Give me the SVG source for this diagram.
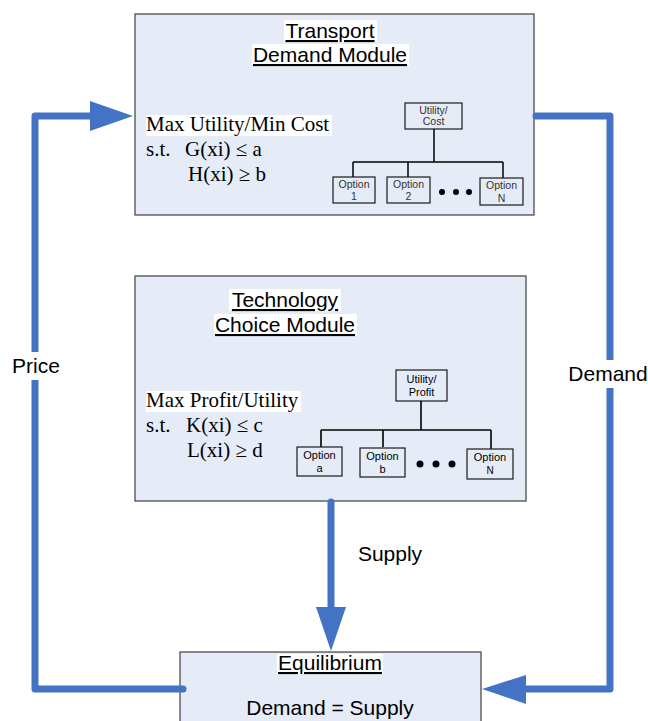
<svg xmlns="http://www.w3.org/2000/svg" width="648" height="721" viewBox="0 0 648 721">
<style>
.mod{fill:#E6ECF7;stroke:#3F3F3F;stroke-width:1.2}
.sb{fill:#E6ECF7;stroke:#1a1a1a;stroke-width:1.2}
.ttl{font-family:"Liberation Sans",Arial,sans-serif;font-size:21px;text-anchor:middle;text-decoration:underline;fill:#000}
.lab{font-family:"Liberation Sans",Arial,sans-serif;font-size:21px;text-anchor:middle;fill:#000}
.ser{font-family:"Liberation Serif","Times New Roman",serif;font-size:21px;fill:#000}
.sm{font-family:"Liberation Sans",Arial,sans-serif;font-size:10.5px;text-anchor:middle;fill:#333}
.smb{font-family:"Liberation Sans",Arial,sans-serif;font-size:11px;text-anchor:middle;fill:#000}
.hl{fill:#fff}
.con{fill:none;stroke:#4472C4;stroke-width:7;stroke-linecap:round;stroke-linejoin:round}
.ah{fill:#4472C4}
</style>
<rect width="648" height="721" fill="#fff"/>

<g id="transport">
<rect class="mod" x="135" y="14" width="399" height="201"/>
<rect class="hl" x="284" y="20" width="93" height="22"/>
<rect class="hl" x="252" y="44" width="157" height="22"/>
<text class="ttl" x="330" y="38">Transport</text>
<text class="ttl" x="330" y="62">Demand Module</text>
<rect class="hl" x="146" y="115" width="186" height="21"/>
<text class="ser" x="146" y="131">Max Utility/Min Cost</text>
<text class="ser" x="146" y="156">s.t.</text>
<text class="ser" x="185" y="156">G(xi) ≤ a</text>
<text class="ser" x="188" y="181">H(xi) ≥ b</text>
<rect class="sb" x="405" y="103" width="57" height="26"/>
<text class="sm" x="433.5" y="114">Utility/</text>
<text class="sm" x="433.5" y="125">Cost</text>
<path d="M434,129 V162 M353,162 H503 M353,162 V177 M408,162 V177 M503,162 V178" fill="none" stroke="#000" stroke-width="1.5"/>
<rect class="sb" x="333" y="177" width="42" height="26"/>
<text class="sm" x="354" y="188">Option</text>
<text class="sm" x="354" y="200">1</text>
<rect class="sb" x="387" y="177" width="43" height="26"/>
<text class="sm" x="408.5" y="188">Option</text>
<text class="sm" x="408.5" y="200">2</text>
<circle cx="442" cy="192" r="3"/>
<circle cx="456" cy="192" r="3"/>
<circle cx="469" cy="192" r="3"/>
<rect class="sb" x="480" y="178" width="43" height="27"/>
<text class="sm" x="501.5" y="189">Option</text>
<text class="sm" x="501.5" y="202">N</text>
</g>

<g id="technology">
<rect class="mod" x="135" y="276" width="391" height="225"/>
<rect class="hl" x="229" y="289" width="112" height="22"/>
<rect class="hl" x="214" y="314" width="143" height="22"/>
<text class="ttl" x="285" y="307">Technology</text>
<text class="ttl" x="285" y="332">Choice Module</text>
<rect class="hl" x="146" y="391" width="155" height="21"/>
<text class="ser" x="146" y="407">Max Profit/Utility</text>
<text class="ser" x="146" y="432">s.t.</text>
<text class="ser" x="186" y="432">K(xi) ≤ c</text>
<text class="ser" x="187" y="457">L(xi) ≥ d</text>
<rect class="sb" x="396" y="370" width="51" height="31"/>
<text class="smb" x="421.5" y="383">Utility/</text>
<text class="smb" x="421.5" y="396">Profit</text>
<path d="M421,401 V430 M321,430 H491 M321,430 V447 M383,430 V447 M491,430 V449" fill="none" stroke="#000" stroke-width="1.6"/>
<rect class="sb" x="297" y="447" width="45" height="29"/>
<text class="smb" x="319.5" y="459">Option</text>
<text class="smb" x="319.5" y="472">a</text>
<rect class="sb" x="360" y="448" width="45" height="29"/>
<text class="smb" x="382.5" y="460">Option</text>
<text class="smb" x="382.5" y="473">b</text>
<circle cx="420" cy="464" r="3.5"/>
<circle cx="436" cy="464" r="3.5"/>
<circle cx="452" cy="464" r="3.5"/>
<rect class="sb" x="467" y="449" width="46" height="30"/>
<text class="smb" x="490" y="461">Option</text>
<text class="smb" x="490" y="474" style="font-size:10px">N</text>
</g>

<g id="equilibrium">
<rect class="mod" x="180" y="652" width="301" height="80"/>
<rect class="hl" x="277" y="654" width="106" height="20"/>
<text class="ttl" x="330" y="670">Equilibrium</text>
<text class="lab" x="330" y="715">Demand = Supply</text>
</g>

<g id="connectors">
<path class="con" d="M183,689 H35 V116 H93"/>
<polygon class="ah" points="90,101 133,116 90,131"/>
<path class="con" d="M536,116 H610 V689 H524"/>
<polygon class="ah" points="526,675 482,689 526,704"/>
<path class="con" d="M331,502 V610"/>
<polygon class="ah" points="316,607 331,651 346,607"/>
</g>

<g id="labels">
<rect class="hl" x="10" y="352" width="52" height="28"/>
<text class="lab" x="36" y="373">Price</text>
<rect class="hl" x="566" y="360" width="82" height="28"/>
<text class="lab" x="608" y="381">Demand</text>
<text class="lab" x="390" y="561">Supply</text>
</g>
</svg>
